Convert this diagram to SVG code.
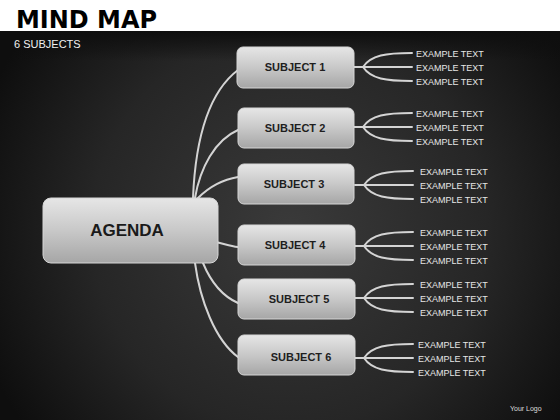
<svg xmlns="http://www.w3.org/2000/svg" width="560" height="420" viewBox="0 0 560 420">
<defs>
<radialGradient id="bg" cx="290" cy="230" r="330" gradientUnits="userSpaceOnUse">
<stop offset="0" stop-color="#3a3a3a"/>
<stop offset="0.6" stop-color="#262626"/>
<stop offset="1" stop-color="#0e0e0e"/>
</radialGradient>
<linearGradient id="box" x1="0" y1="0" x2="0" y2="1">
<stop offset="0" stop-color="#e6e6e6"/>
<stop offset="0.5" stop-color="#c8c8c8"/>
<stop offset="1" stop-color="#a6a6a6"/>
</linearGradient>
<linearGradient id="hdr" x1="0" y1="0" x2="0" y2="1">
<stop offset="0" stop-color="#0e0e0e"/>
<stop offset="1" stop-color="#0e0e0e" stop-opacity="0"/>
</linearGradient>
<g id="fork">
<path d="M0,0 H9 M9,0 C17,-12 32,-14 58,-14 M9,0 H58 M9,0 C17,12 32,14 58,14"/>
</g>
</defs>
<style>
.bx{fill:url(#box);stroke:#d6d6d6;stroke-width:1}
.st{font-family:"Liberation Sans",Arial,sans-serif;font-weight:bold;font-size:11px;fill:#1e1e1e;text-anchor:middle}
.ex{font-family:"Liberation Sans",Arial,sans-serif;font-size:9px;fill:#e6e6e6;white-space:pre}
.cn{fill:none;stroke:#d4d4d4;stroke-width:2;stroke-linecap:round}
</style>
<rect x="0" y="0" width="560" height="420" fill="url(#bg)"/>
<rect x="0" y="31" width="560" height="30" fill="url(#hdr)"/>
<rect x="0" y="0" width="560" height="31" fill="#ffffff"/>
<text x="16" y="28" font-family="DejaVu Sans,Verdana,sans-serif" font-weight="bold" font-size="24" fill="#000" textLength="141" lengthAdjust="spacingAndGlyphs">MIND MAP</text>
<text x="14" y="48" font-family="Liberation Sans,Arial,sans-serif" font-size="11" fill="#f0f0f0">6 SUBJECTS</text>
<text x="510" y="411" font-family="Liberation Sans,Arial,sans-serif" font-size="7" fill="#dddddd">Your Logo</text>

<g id="connectors" class="cn">
<path d="M193,198 C195,150 205,95 238,70"/>
<path d="M195,198 C200,168 215,140 238,130"/>
<path d="M198,198 C208,188 220,180 238,177"/>
<path d="M216,242 C225,244 230,246 238,247"/>
<path d="M203,263 C210,280 220,295 238,303"/>
<path d="M195,263 C200,300 215,340 238,357"/>
<use href="#fork" x="354" y="67"/>
<use href="#fork" x="354" y="127"/>
<use href="#fork" x="355" y="185"/>
<use href="#fork" x="355" y="246"/>
<use href="#fork" x="355" y="298"/>
<use href="#fork" x="355" y="358"/>
</g>

<g id="agenda">
<rect x="43" y="198" width="175" height="65" rx="8" class="bx"/>
<text x="127" y="236" font-family="Liberation Sans,Arial,sans-serif" font-weight="bold" font-size="17" fill="#1a1a1a" text-anchor="middle">AGENDA</text>
</g>

<g id="subject1">
<rect x="237" y="47" width="117" height="41" rx="6" class="bx"/>
<text x="295" y="71" class="st">SUBJECT 1</text>
</g>
<g id="subject2">
<rect x="238" y="108" width="116" height="40" rx="6" class="bx"/>
<text x="295" y="132" class="st">SUBJECT 2</text>
</g>
<g id="subject3">
<rect x="238" y="164" width="116" height="40" rx="6" class="bx"/>
<text x="294" y="188" class="st">SUBJECT 3</text>
</g>
<g id="subject4">
<rect x="238" y="225" width="117" height="40" rx="6" class="bx"/>
<text x="295" y="249" class="st">SUBJECT 4</text>
</g>
<g id="subject5">
<rect x="238" y="279" width="117" height="40" rx="6" class="bx"/>
<text x="299" y="303" class="st">SUBJECT 5</text>
</g>
<g id="subject6">
<rect x="238" y="335" width="117" height="40" rx="6" class="bx"/>
<text x="301" y="361" class="st">SUBJECT 6</text>
</g>

<g id="texts1" class="ex">
<text x="416" y="57">EXAMPLE  TEXT</text>
<text x="416" y="71">EXAMPLE  TEXT</text>
<text x="416" y="85">EXAMPLE  TEXT</text>
</g>
<g id="texts2" class="ex">
<text x="416" y="117">EXAMPLE  TEXT</text>
<text x="416" y="131">EXAMPLE  TEXT</text>
<text x="416" y="145">EXAMPLE  TEXT</text>
</g>
<g id="texts3" class="ex">
<text x="420" y="175">EXAMPLE  TEXT</text>
<text x="420" y="189">EXAMPLE  TEXT</text>
<text x="420" y="203">EXAMPLE  TEXT</text>
</g>
<g id="texts4" class="ex">
<text x="420" y="236">EXAMPLE  TEXT</text>
<text x="420" y="250">EXAMPLE  TEXT</text>
<text x="420" y="264">EXAMPLE  TEXT</text>
</g>
<g id="texts5" class="ex">
<text x="420" y="288">EXAMPLE  TEXT</text>
<text x="420" y="302">EXAMPLE  TEXT</text>
<text x="420" y="316">EXAMPLE  TEXT</text>
</g>
<g id="texts6" class="ex">
<text x="418" y="348">EXAMPLE  TEXT</text>
<text x="418" y="362">EXAMPLE  TEXT</text>
<text x="418" y="376">EXAMPLE  TEXT</text>
</g>
</svg>
